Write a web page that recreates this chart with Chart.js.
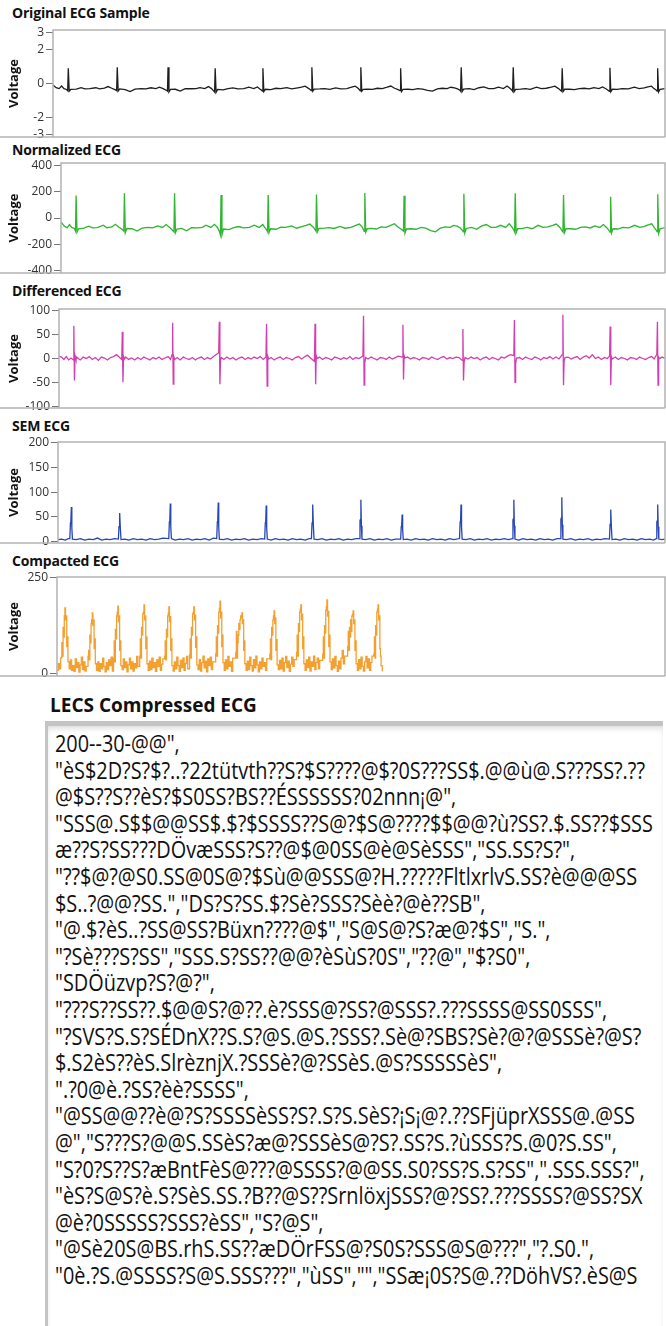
<!DOCTYPE html>
<html><head><meta charset="utf-8">
<script src="https://cdn.jsdelivr.net/npm/chart.js@4.4.1/dist/chart.umd.min.js"></script>
<style>
body{margin:0;width:666px;height:1326px;background:#fff;position:relative;overflow:hidden;font-family:"Open Sans",sans-serif;}
.ttl{position:absolute;left:12px;font-weight:700;font-size:14px;line-height:18px;color:#111;letter-spacing:-0.2px;white-space:nowrap;}
.pan{position:absolute;left:0;width:666px;}
#lecsTitle{position:absolute;left:50px;top:693px;font-weight:700;font-size:19px;line-height:24px;color:#111;white-space:nowrap;}
#box{position:absolute;left:45px;top:721px;width:615px;height:640px;border-top:5px solid #c4c4c4;border-left:3px solid #c4c4c4;box-shadow:inset 0 4px 6px -2px #d8d8d8;}
#lecs{position:absolute;left:55px;top:730px;transform-origin:0 0;font-size:23px;line-height:26.6px;white-space:pre;color:#111;}
</style></head><body>
<div id="t0" class="ttl"></div><div id="t1" class="ttl"></div><div id="t2" class="ttl"></div><div id="t3" class="ttl"></div><div id="t4" class="ttl"></div>
<div id="p0" class="pan"></div><div id="p1" class="pan"></div><div id="p2" class="pan"></div><div id="p3" class="pan"></div><div id="p4" class="pan"></div>
<div id="lecsTitle"></div><div id="box"></div><div id="lecs"></div>
<script>
const panelTitles = ['Original ECG Sample','Normalized ECG','Differenced ECG','SEM ECG','Compacted ECG'];
const yTitle = 'Voltage';
const originalTicks = [3,2,0,-2,-3];
const normalizedTicks = [400,200,0,-200,-400];
const differencedTicks = [100,50,0,-50,-100];
const semTicks = [200,150,100,50,0];
const compactedTicks = [250,0];

const originalEcg = [
[0,-0.08],[5,-0.25],[10,-0.3],
[14,-0.15],[18,-0.3],[22,-0.35],[24,-0.42],[25,0.9],[26.5,-0.45],[29,-0.35],[38,-0.33],[46,-0.25],[52,-0.32],[60,-0.3],[70,-0.25],[76,-0.32],
[84,-0.27],[90,-0.18],[96,-0.28],[102,-0.38],[104,-0.42],[105,0.95],[106.5,-0.45],[109,-0.32],[118,-0.36],[126,-0.48],[134,-0.33],[144,-0.3],[152,-0.32],[160,-0.25],
[168,-0.3],[174,-0.22],[180,-0.3],[185,-0.4],[187,-0.45],[188,0.95],[189.5,-0.5],[192,-0.35],[200,-0.34],[208,-0.45],[216,-0.3],[226,-0.31],[234,-0.3],[240,-0.24],
[248,-0.3],[254,-0.18],[259,-0.3],[262,-0.42],[264,-0.5],[265,0.9],[266.5,-0.52],[269,-0.35],[278,-0.38],[286,-0.3],[294,-0.26],[302,-0.32],[312,-0.3],[320,-0.22],
[328,-0.3],[334,-0.2],[338,-0.32],[341,-0.4],[342,-0.45],[343,0.9],[344.5,-0.47],[347,-0.34],[356,-0.36],[364,-0.28],[372,-0.3],[382,-0.24],[390,-0.32],[400,-0.26],
[406,-0.22],[412,-0.16],[418,-0.3],[421,-0.38],[422,-0.42],[423,0.95],[424.5,-0.45],[427,-0.33],[436,-0.32],[444,-0.3],[452,-0.34],[462,-0.26],[470,-0.32],[480,-0.3],
[488,-0.22],[494,-0.16],[499,-0.3],[501,-0.38],[502,-0.43],[503,0.95],[504.5,-0.45],[507,-0.34],[514,-0.33],[522,-0.35],[530,-0.28],[538,-0.3],[546,-0.22],[552,-0.15],
[558,-0.28],[564,-0.36],[567,-0.42],[568,0.9],[569.5,-0.48],[572,-0.35],[580,-0.34],[588,-0.36],[596,-0.3],[604,-0.33],[612,-0.4],[620,-0.45],[628,-0.32],[636,-0.28],[644,-0.3],[650,-0.22],
[656,-0.26],[661,-0.32],[665,-0.4],[666,-0.45],[667,0.95],[668.5,-0.48],[671,-0.33],[680,-0.3],[688,-0.36],[696,-0.25],[704,-0.2],[712,-0.3],[720,-0.3],[728,-0.22],
[736,-0.3],[742,-0.15],[747,-0.3],[750,-0.4],[751,-0.45],[752,0.95],[753.5,-0.48],[756,-0.34],[764,-0.33],[772,-0.3],[780,-0.34],[790,-0.22],[798,-0.3],[806,-0.28],
[814,-0.22],[820,-0.16],[826,-0.3],[830,-0.42],[831,-0.45],[832,0.9],[833.5,-0.47],[836,-0.34],[844,-0.34],[852,-0.36],[860,-0.3],[868,-0.28],[876,-0.32],[884,-0.24],
[892,-0.3],[898,-0.2],[904,-0.32],[908,-0.42],[909,-0.46],[910,0.92],[911.5,-0.48],[914,-0.34],[922,-0.35],[930,-0.3],[940,-0.32],[950,-0.22],[958,-0.3],[966,-0.26],
[972,-0.2],[978,-0.16],[982,-0.3],[986,-0.4],[987,-0.45],[988,0.9],[989.5,-0.5],[992,-0.34],[1000,-0.3]
];

const normalizedEcg = [
[0,-30],[5,-60],[10,-75],
[14,-50],[18,-72],[22,-80],[24,-100],[25,172],[26.5,-108],[29,-82],[38,-78],[46,-62],[52,-76],[60,-74],[70,-55],[76,-75],
[84,-68],[90,-48],[96,-70],[102,-90],[104,-100],[105,188],[106.5,-112],[109,-80],[118,-82],[126,-100],[134,-78],[144,-72],[152,-76],[160,-60],
[168,-72],[174,-50],[180,-72],[185,-95],[187,-105],[188,188],[189.5,-112],[192,-84],[200,-80],[208,-98],[216,-74],[226,-76],[234,-72],[240,-55],
[248,-72],[254,-48],[259,-72],[262,-100],[264,-130],[265,175],[266.5,-128],[269,-84],[278,-88],[286,-74],[294,-65],[302,-76],[312,-72],[320,-55],
[328,-72],[334,-50],[338,-76],[341,-95],[342,-105],[343,175],[344.5,-110],[347,-82],[356,-86],[364,-70],[372,-72],[382,-60],[390,-78],[400,-64],
[406,-56],[412,-46],[418,-72],[421,-92],[422,-100],[423,180],[424.5,-106],[427,-80],[436,-78],[444,-74],[452,-80],[462,-64],[470,-78],[480,-72],
[488,-56],[494,-46],[499,-72],[501,-92],[502,-102],[503,190],[504.5,-108],[507,-82],[514,-80],[522,-84],[530,-68],[538,-72],[546,-56],[552,-44],
[558,-68],[564,-88],[567,-100],[568,170],[569.5,-115],[572,-84],[580,-82],[588,-86],[596,-72],[604,-78],[612,-96],[620,-106],[628,-78],[636,-68],[644,-72],[650,-56],
[656,-62],[661,-76],[665,-96],[666,-106],[667,185],[668.5,-114],[671,-80],[680,-72],[688,-86],[696,-62],[704,-50],[712,-72],[720,-72],[728,-56],
[736,-72],[742,-44],[747,-72],[750,-95],[751,-106],[752,188],[753.5,-114],[756,-82],[764,-80],[772,-72],[780,-82],[790,-56],[798,-72],[806,-68],
[814,-56],[820,-46],[826,-72],[830,-100],[831,-106],[832,175],[833.5,-112],[836,-82],[844,-82],[852,-86],[860,-72],[868,-68],[876,-76],[884,-60],
[892,-72],[898,-50],[904,-76],[908,-100],[909,-108],[910,162],[911.5,-114],[914,-82],[922,-84],[930,-72],[940,-76],[950,-56],[958,-72],[966,-64],
[972,-52],[978,-44],[982,-72],[986,-96],[987,-106],[988,182],[989.5,-118],[992,-82],[1000,-74]
];

const differencedEcg = [
[0,5],[4,3],[8,-2],[12,4],[16,-3],[20,1],
[23.5,-3],[24.5,69],[25.5,-46],[26.5,6],[28,-2],
[30,2],[35,-3],[40,3],[45,0],[50,4],[55,-2],[60,2],[65,-4],[70,3],[75,1],[80,-3],[85,2],[90,4],[95,8],[100,2],
[103.5,-2],[104.5,56],[105.5,-50],[106.5,5],[108,-1],
[110,3],[115,-2],[120,1],[125,-3],[130,2],[135,-2],[140,3],[145,0],[150,-3],[155,2],[160,-1],[165,3],[170,-2],[175,1],[180,4],[184,-2],
[186.5,8],[187.5,75],[188.5,-54],[189.5,4],[191,-2],
[195,2],[200,-3],[205,3],[210,0],[215,-2],[220,2],[225,-3],[230,1],[235,3],[240,-2],[245,2],[250,-1],[255,4],[260,9],
[263.5,12],[264.5,77],[265.5,-54],[266.5,-4],[268,2],
[272,-2],[277,3],[282,-1],[287,2],[292,-3],[297,1],[302,3],[307,-2],[312,2],[317,-1],[322,3],[327,0],[332,4],[337,-2],
[341.5,3],[342.5,73],[343.5,-58],[344.5,5],[346,-1],
[350,2],[355,-3],[360,1],[365,3],[370,-2],[375,2],[380,0],[385,-3],[390,2],[395,4],[400,-1],[405,3],[410,7],[415,1],
[421.5,-6],[422.5,73],[423.5,-54],[424.5,6],[426,0],
[430,3],[435,-2],[440,2],[445,0],[450,-3],[455,3],[460,1],[465,-2],[470,2],[475,-1],[480,4],[485,-2],[490,2],[495,0],
[501.5,5],[502.5,90],[503.5,-56],[504.5,-10],[506,2],
[510,-1],[515,3],[520,0],[525,-3],[530,2],[535,1],[540,-2],[545,3],[550,-1],[555,2],[560,5],
[566.5,3],[567.5,71],[568.5,-44],[569.5,6],[571,1],
[575,3],[580,-1],[585,2],[590,0],[595,-3],[600,2],[605,1],[610,-2],[615,3],[620,0],[625,-2],[630,2],[635,4],[640,-1],[645,2],[650,0],[655,3],[660,2],
[665.5,-4],[666.5,62],[667.5,-46],[668.5,-8],[670,2],
[675,-1],[680,3],[685,0],[690,2],[695,-3],[700,1],[705,3],[710,-2],[715,2],[720,0],[725,-3],[730,3],[735,1],[740,5],[745,8],
[750.5,6],[751.5,81],[752.5,-50],[753.5,-12],[755,1],
[760,2],[765,-2],[770,3],[775,0],[780,-2],[785,3],[790,1],[795,-3],[800,2],[805,0],[810,4],[815,-1],[820,3],[825,-1],
[830.5,8],[831.5,92],[832.5,-56],[833.5,-6],[835,2],
[840,3],[845,-1],[850,2],[855,4],[860,-2],[865,3],[870,6],[875,1],[880,8],[885,0],[890,3],[895,-2],[900,2],[905,0],
[908.5,5],[909.5,67],[910.5,-56],[911.5,4],[913,-1],
[918,3],[923,-2],[928,2],[933,0],[938,-3],[943,2],[948,1],[953,-2],[958,3],[963,0],[968,-2],[973,2],[978,4],[982,-1],
[986.5,9],[987.5,77],[988.5,-56],[989.5,3],[991,0],
[995,3],[1000,0]
];

const semEcg = [
[0,4],[6,5],[12,3],[17,6],[19.5,6],[20.5,38],[21.2,40],[22,70],[22.8,28],[23.8,5],
[30,4],[37,6],[44,3],[51,5],[58,4],[65,7],[72,3],[79,5],[86,4],[93,6],[99.5,5],[100.5,30],[101.2,35],[102,58],[102.8,25],[103.8,4],
[110,5],[117,3],[124,6],[131,4],[138,5],[145,3],[152,6],[159,4],[166,5],[173,7],[182.5,6],[183.5,40],[184.2,42],[185,77],[185.8,30],[186.8,6],
[193,3],[200,5],[207,4],[214,6],[221,3],[228,5],[235,4],[242,6],[249,3],[256,7],[261.5,6],[262.5,40],[263.2,44],[264,79],[264.8,30],[265.8,5],
[272,4],[279,6],[286,3],[293,5],[300,4],[307,6],[314,3],[321,5],[328,4],[335,6],[340.5,5],[341.5,38],[342.2,40],[343,73],[343.8,28],[344.8,5],
[351,3],[358,6],[365,4],[372,5],[379,3],[386,6],[393,4],[400,5],[407,3],[414,6],[417.5,6],[418.5,38],[419.2,42],[420,75],[420.8,30],[421.8,5],
[428,4],[435,6],[442,3],[449,5],[456,4],[463,6],[470,3],[477,5],[484,4],[491,6],[496.5,6],[497.5,42],[498.2,45],[499,85],[499.8,32],[500.8,5],
[507,4],[514,6],[521,3],[528,5],[535,4],[542,6],[549,3],[556,5],[564.5,5],[565.5,30],[566.2,34],[567,55],[567.8,24],[568.8,4],
[575,5],[582,3],[589,6],[596,4],[603,5],[610,3],[617,6],[624,4],[631,5],[638,3],[645,6],[652,4],[661.5,6],[662.5,40],[663.2,42],[664,75],[664.8,30],[665.8,5],
[672,4],[679,6],[686,3],[693,5],[700,4],[707,6],[714,3],[721,5],[728,4],[735,6],[742,4],[748.5,6],[749.5,44],[750.2,46],[751,85],[751.8,32],[752.8,5],
[759,3],[766,6],[773,4],[780,5],[787,3],[794,6],[801,4],[808,5],[815,3],[822,6],[827.5,6],[828.5,45],[829.2,48],[830,90],[830.8,34],[831.8,5],
[838,4],[845,6],[852,3],[859,5],[866,4],[873,6],[880,3],[887,5],[894,4],[901,6],[908.5,5],[909.5,35],[910.2,38],[911,65],[911.8,26],[912.8,4],
[919,5],[926,3],[933,6],[940,4],[947,5],[954,3],[961,6],[968,4],[975,5],[981,3],[985.5,6],[986.5,40],[987.2,42],[988,75],[988.8,30],[989.8,5],[995,4],[1000,5]
];

const compactedEcg = [
[0,8],[2,25],[4,12],[6,40],
[7,42],[8,80],[9,45],[10,120],[11,95],[12,150],[13,171],[14,140],[15,150],[16,70],[17,95],[18,30],[20,12],
[22,35],[24,8],[26,20],[28,5],[30,38],[32,15],[34,28],[36,3],[38,22],[40,42],[42,10],[44,30],[46,6],[48,18],
[51,45],[52,60],[53,35],[54,100],[55,80],[56,130],[57,140],[58,158],[59,125],[60,140],[61,65],[62,90],[63,25],[65,8],
[67,30],[69,5],[71,25],[73,12],[75,40],[77,18],[79,4],[81,28],[83,10],[85,35],[87,20],[89,42],[91,6],
[93,40],[94,85],[95,30],[96,115],[97,90],[98,150],[99,160],[100,176],[101,135],[102,150],[103,60],[104,85],[105,20],[107,10],
[109,38],[111,15],[113,30],[115,4],[117,22],[119,40],[121,12],[123,30],[125,6],[127,25],[129,14],[131,44],[133,18],
[136,45],[137,90],[138,40],[139,120],[140,100],[141,155],[142,160],[143,179],[144,140],[145,150],[146,65],[147,95],[148,25],[150,8],
[152,32],[154,10],[156,40],[158,15],[160,28],[162,5],[164,35],[166,18],[168,42],[170,8],[172,24],[174,38],
[177,45],[178,85],[179,35],[180,115],[181,95],[182,150],[183,158],[184,174],[185,135],[186,148],[187,60],[188,90],[189,20],[191,6],
[193,30],[195,12],[197,42],[199,20],[201,5],[203,34],[205,15],[207,40],[209,8],[211,26],[213,44],[215,12],
[218,48],[219,90],[220,40],[221,120],[222,100],[223,155],[224,160],[225,174],[226,140],[227,152],[228,68],[229,95],[230,22],[232,10],
[234,36],[236,6],[238,28],[240,45],[242,14],[244,32],[246,4],[248,38],[250,20],[252,42],[254,10],[256,30],
[261,50],[262,95],[263,45],[264,125],[265,105],[266,160],[267,170],[268,189],[269,145],[270,160],[271,70],[272,100],[273,28],[275,8],
[277,35],[279,12],[281,44],[283,18],[285,30],[287,5],[289,40],
[294,55],[295,110],[296,40],[297,80],[298,100],[299,130],[300,115],[301,140],[302,150],[303,145],[304,158],[305,130],[306,140],[307,60],[308,85],[309,25],[311,8],
[313,32],[315,10],[317,42],[319,20],[321,6],[323,36],[325,14],[327,45],[329,22],[331,4],[333,30],[335,12],[337,40],[339,18],[341,28],[343,8],[345,38],
[350,50],[351,90],[352,35],[353,120],[354,100],[355,140],[356,150],[357,163],[358,130],[359,145],[360,60],[361,88],[362,22],[364,10],
[366,34],[368,12],[370,40],[372,6],[374,28],[376,44],[378,15],[380,32],[382,5],[384,24],[386,42],[388,18],[390,36],
[394,55],[395,100],[396,45],[397,130],[398,110],[399,160],[400,168],[401,179],[402,140],[403,155],[404,65],[405,95],[406,25],[408,8],
[410,35],[412,15],[414,42],[416,6],[418,30],[420,18],[422,45],[424,10],[426,28],[428,40],[430,12],[432,34],
[437,50],[438,95],[439,40],[440,125],[441,105],[442,165],[443,175],[444,192],[445,150],[446,162],[447,70],[448,100],[449,30],[451,10],
[453,38],[455,14],[457,44],[459,20],[461,5],[463,32],[465,12],[467,40],[469,60],[471,25],[473,45],
[478,70],[479,110],[480,60],[481,120],[482,95],[483,140],[484,110],[485,150],[486,155],[487,163],[488,130],[489,140],[490,60],[491,85],[492,25],[494,8],
[496,36],[498,12],[500,42],[502,18],[504,6],[506,30],[508,44],[510,14],[512,38],[514,8],[516,28],[518,45],
[521,50],[522,95],[523,40],[524,125],[525,100],[526,160],[527,168],[528,179],[529,140],[530,150],[531,65],[532,45],[533,20],[535,5]
];

const lecsTitle = 'LECS Compressed ECG';
const lecsLines = [
'200--30-@@",',
'"èS$2D?S?$?..?22tütvth??S?$S????@$?0S???SS$.@@ù@.S???SS?.??',
'@$S??S??èS?$S0SS?BS??ÉSSSSSS?02nnn¡@",',
'"SSS@.S$$@@SS$.$?$SSSS??S@?$S@????$$@@?ù?SS?.$.SS??$SSS',
'æ??S?SS???DÖvæSSS?S??@$@0SS@è@SèSSS","SS.SS?S?",',
'"??$@?@S0.SS@0S@?$Sù@@SSS@?H.?????FltlxrlvS.SS?è@@@SS',
'$S..?@@?SS.","DS?S?SS.$?Sè?SSS?Sèè?@è??SB",',
'"@.$?èS..?SS@SS?Büxn????@$","S@S@?S?æ@?$S","S.",',
'"?Sè???S?SS","SSS.S?SS??@@?èSùS?0S","??@","$?S0",',
'"SDÖüzvp?S?@?",',
'"???S??SS??.$@@S?@??.è?SSS@?SS?@SSS?.???SSSS@SS0SSS",',
'"?SVS?S.S?SÉDnX??S.S?@S.@S.?SSS?.Sè@?SBS?Sè?@?@SSSè?@S?',
'$.S2èS??èS.SlrèznjX.?SSSè?@?SSèS.@S?SSSSSèS",',
'".?0@è.?SS?èè?SSSS",',
'"@SS@@??è@?S?SSSSèSS?S?.S?S.SèS?¡S¡@?.??SFjüprXSSS@.@SS',
'@","S???S?@@S.SSèS?æ@?SSSèS@?S?.SS?S.?ùSSS?S.@0?S.SS",',
'"S?0?S??S?æBntFèS@???@SSSS?@@SS.S0?SS?S.S?SS",".SSS.SSS?",',
'"èS?S@S?è.S?SèS.SS.?B??@S??SrnlöxjSSS?@?SS?.???SSSS?@SS?SX',
'@è?0SSSSS?SSS?èSS","S?@S",',
'"@Sè20S@BS.rhS.SS??æDÖrFSS@?S0S?SSS@S@???","?.S0.",',
'"0è.?S.@SSSS?S@S.SSS???","ùSS","","SSæ¡0S?S@.??DöhVS?.èS@S'
];

// layout only (pixels)
const layouts = [
 {title:13, left:53, top:30, bottom:137, right:665, min:-3.15, max:3.15},
 {title:150, left:61, top:163, bottom:273, right:665, min:-420, max:420},
 {title:291, left:59, top:309, bottom:408, right:665, min:-104, max:104},
 {title:426, left:58, top:442, bottom:543, right:665, min:-3, max:202},
 {title:561, left:57, top:577, bottom:676, right:665, min:-7, max:252}
];

const framePlugin = {id:'frame', afterDraw(c){
  const a=c.chartArea, ctx=c.ctx; ctx.save();
  ctx.strokeStyle='#b2b2b2'; ctx.lineWidth=1.5; ctx.beginPath();
  ctx.moveTo(a.left,a.bottom); ctx.lineTo(a.left,a.top); ctx.lineTo(a.right,a.top); ctx.lineTo(a.right,a.bottom);
  ctx.moveTo(0,a.bottom); ctx.lineTo(a.right,a.bottom); ctx.stroke(); ctx.restore();
}};

function makePanel(i, data, ticks, color, stepped){
  const L = layouts[i];
  const t = document.getElementById('t'+i);
  t.textContent = panelTitles[i]; t.style.top = (L.title-9)+'px';
  const pt=12, pb=12, h=L.bottom-L.top+pt+pb;
  const box = document.getElementById('p'+i);
  box.style.top=(L.top-pt)+'px'; box.style.height=h+'px';
  const cv=document.createElement('canvas'); cv.width=666; cv.height=h;
  cv.style.width='666px'; cv.style.height=h+'px'; box.appendChild(cv);
  new Chart(cv,{type:'line',
    data:{datasets:[{data:data.map(p=>({x:p[0],y:p[1]})),borderColor:color,borderWidth:1.3,pointRadius:0,tension:0,stepped:stepped||false,fill:false}]},
    options:{responsive:false,animation:false,events:[],
      layout:{autoPadding:false,padding:{top:pt,bottom:pb,left:0,right:666-L.right}},
      plugins:{legend:{display:false},tooltip:{enabled:false}},
      scales:{
        x:{type:'linear',min:0,max:1000,display:false},
        y:{type:'linear',min:L.min,max:L.max,
          afterFit:s=>{s.width=L.left;},
          afterBuildTicks:s=>{s.ticks=ticks.map(v=>({value:v}));},
          ticks:{color:'#333',font:{family:'Open Sans',size:12},padding:2,autoSkip:false,callback:v=>String(v)},
          grid:{drawOnChartArea:false,drawTicks:true,tickLength:7,color:'#777',tickWidth:1},
          border:{display:false},
          title:{display:true,text:yTitle,color:'#111',font:{family:'Open Sans',size:13,weight:'bold'},padding:{top:6,bottom:0}}
        }}},
    plugins:[framePlugin]});
}

makePanel(0, originalEcg, originalTicks, '#1e1e1e');
makePanel(1, normalizedEcg, normalizedTicks, '#2fb52f');
makePanel(2, differencedEcg, differencedTicks, '#d43fae');
makePanel(3, semEcg, semTicks, '#2646b4');
makePanel(4, compactedEcg, compactedTicks, '#f4a031', true);

document.getElementById('lecsTitle').textContent = lecsTitle;
const lecs = document.getElementById('lecs');
lecs.textContent = lecsLines.join('\n');
const mctx = document.createElement('canvas').getContext('2d');
mctx.font = '23px "Open Sans"';
const w = mctx.measureText(lecsLines[1]).width;
lecs.style.transform = 'scaleX(' + (590 / w) + ')';
</script>
</body></html>
